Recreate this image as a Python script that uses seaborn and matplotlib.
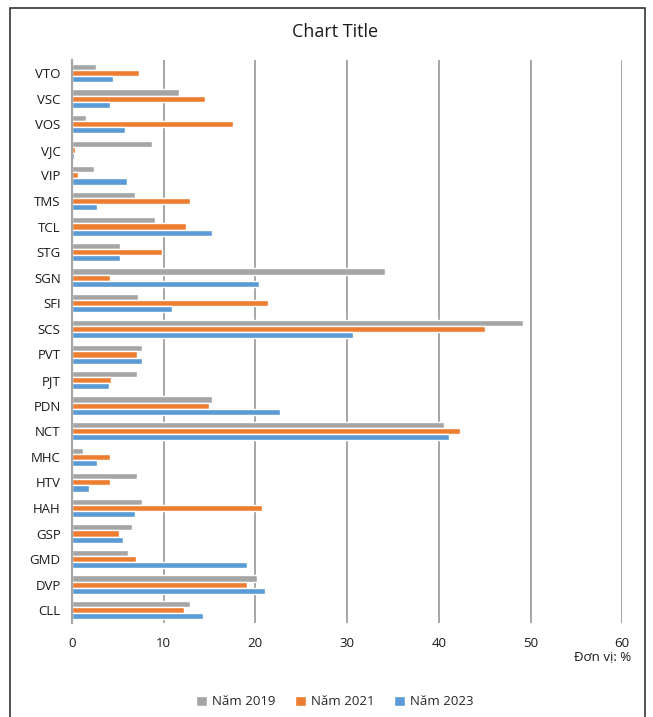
import numpy as np
import pandas as pd
import matplotlib
matplotlib.use("Agg")
import matplotlib.pyplot as plt
from matplotlib.patches import Rectangle
import seaborn as sns

# data (top to bottom)
tickers = ["VTO", "VSC", "VOS", "VJC", "VIP", "TMS", "TCL", "STG", "SGN", "SFI", "SCS",
           "PVT", "PJT", "PDN", "NCT", "MHC", "HTV", "HAH", "GSP", "GMD", "DVP", "CLL"]
nam_2019 = [2.6, 11.7, 1.5, 8.7, 2.4, 6.9, 9.1, 5.3, 34.1, 7.2, 49.2,
            7.7, 7.1, 15.3, 40.6, 1.2, 7.1, 7.6, 6.6, 6.1, 20.2, 12.9]
nam_2021 = [7.3, 14.5, 17.6, 0.3, 0.7, 12.9, 12.4, 9.8, 4.2, 21.4, 45.0,
            7.1, 4.3, 14.9, 42.3, 4.2, 4.2, 20.7, 5.1, 7.0, 19.1, 12.2]
nam_2023 = [4.5, 4.2, 5.8, 0.25, 6.0, 2.7, 15.3, 5.3, 20.4, 10.9, 30.6,
            7.7, 4.0, 22.7, 41.1, 2.7, 1.9, 6.9, 5.6, 19.1, 21.1, 14.3]
series = ["Năm 2019", "Năm 2021", "Năm 2023"]
colors = ["#a5a5a5", "#ed7d31", "#5b9bd5"]

df = pd.DataFrame({
    "ticker": tickers * 3,
    "value": nam_2019 + nam_2021 + nam_2023,
    "year": [series[0]] * len(tickers) + [series[1]] * len(tickers) + [series[2]] * len(tickers),
})

sns.set_style("white")
plt.rcParams["font.family"] = ["Open Sans", "DejaVu Sans"]

fig = plt.figure(figsize=(6.53, 7.17), dpi=100)
ax = fig.add_axes([0.110, 0.131, 0.843, 0.785])

sns.barplot(data=df, y="ticker", x="value", hue="year", order=tickers, hue_order=series,
            palette=colors, width=0.72, saturation=1, ax=ax, orient="h")

ax.set_xlim(0, 60)
ax.set_xticks(range(0, 61, 10))
ax.xaxis.grid(True, color="#a6a6a6", linewidth=1.4)
ax.set_axisbelow(True)
for s in ["top", "right", "bottom"]:
    ax.spines[s].set_visible(False)
ax.spines["left"].set_color("#a6a6a6")
ax.spines["left"].set_linewidth(1.6)
ax.tick_params(axis="both", length=0, labelsize=9.5, colors="#1a1a1a")
ax.tick_params(axis="x", pad=10)
ax.tick_params(axis="y", pad=8)
ax.set_xlabel("")
ax.set_ylabel("")

fig.text(0.513, 0.956, "Chart Title", ha="center", va="center", fontsize=13, color="#1a1a1a")
fig.text(0.967, 0.084, "Đơn vị: %", ha="right", va="center", fontsize=9.5, color="#1a1a1a")

ax.legend(loc="center", bbox_to_anchor=(0.513, 0.021), bbox_transform=fig.transFigure,
          ncol=3, frameon=False, fontsize=9.5, handlelength=0.8, handleheight=0.8,
          handletextpad=0.4, columnspacing=1.5)

fig.patches.append(Rectangle((0.015, -0.01), 0.973, 0.999, transform=fig.transFigure,
                             fill=False, edgecolor="#333333", linewidth=1.2))

fig.savefig("out.png", dpi=100)
